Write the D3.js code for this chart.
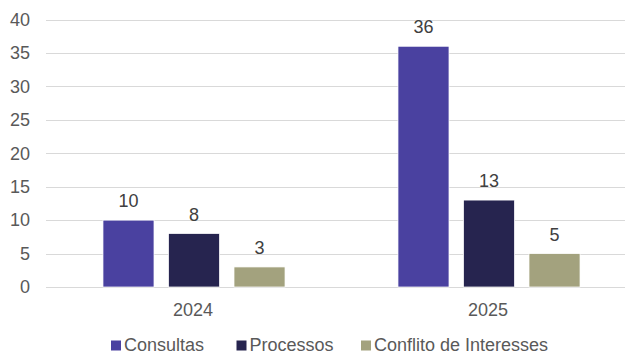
<!DOCTYPE html>
<html>
<head>
<meta charset="utf-8">
<script src="https://cdn.jsdelivr.net/npm/d3@7"></script>
<style>
  html, body { margin: 0; padding: 0; background: #fff; }
  svg { display: block; font-family: "Liberation Sans", Arial, sans-serif; }
</style>
</head>
<body>
<svg id="chart" width="625" height="354"></svg>
<script>
// Chart data
const years = ["2024", "2025"];
const seriesNames = ["Consultas", "Processos", "Conflito de Interesses"];
const consultas = [10, 36];
const processos = [8, 13];
const conflito = [3, 5];
const yTicks = [0, 5, 10, 15, 20, 25, 30, 35, 40];

const seriesValues = [consultas, processos, conflito];
const colors = ["#4A41A0", "#26244F", "#A3A27E"];

const svg = d3.select("#chart");
const W = 625;

const x0 = d3.scaleBand().domain(years).range([46.5, 636.5]).padding(0);
const x1 = d3.scaleBand().domain(seriesNames).range([0, x0.bandwidth()])
  .paddingInner(0.221).paddingOuter(0.862);
const y = d3.scaleLinear().domain([0, 40]).range([287, 19.5]);

// Horizontal gridlines
svg.append("g").selectAll("line").data(yTicks).join("line")
  .attr("x1", 46).attr("x2", W)
  .attr("y1", d => Math.round(y(d)) + 0.5).attr("y2", d => Math.round(y(d)) + 0.5)
  .attr("stroke", "#d9d9d9").attr("stroke-width", 1);

// Y axis labels
svg.append("g").selectAll("text").data(yTicks).join("text")
  .attr("x", 30).attr("y", d => y(d) + 6.3)
  .attr("text-anchor", "end")
  .attr("font-size", 18).attr("fill", "#595959")
  .text(d => d);

// X axis labels
svg.append("g").selectAll("text").data(years).join("text")
  .attr("x", d => x0(d) + x0.bandwidth() / 2 - 1)
  .attr("y", 315.5)
  .attr("text-anchor", "middle")
  .attr("font-size", 18).attr("fill", "#595959")
  .text(d => d);

// Bars and value labels
const rows = [];
years.forEach((yr, i) => {
  seriesNames.forEach((s, j) => rows.push({ year: yr, series: s, value: seriesValues[j][i], color: colors[j] }));
});

const g = svg.append("g");
g.selectAll("rect").data(rows).join("rect")
  .attr("x", d => x0(d.year) + x1(d.series))
  .attr("y", d => y(d.value))
  .attr("width", x1.bandwidth())
  .attr("height", d => y(0) - y(d.value))
  .attr("fill", d => d.color)
  .attr("stroke", "#ffffff").attr("stroke-width", 0.75);

g.selectAll("text").data(rows).join("text")
  .attr("x", d => x0(d.year) + x1(d.series) + x1.bandwidth() / 2)
  .attr("y", d => y(d.value) - 13)
  .attr("text-anchor", "middle")
  .attr("font-size", 18).attr("fill", "#404040")
  .text(d => d.value);

// Legend
const legendX = [111, 236.5, 361];
const legend = svg.append("g").selectAll("g").data(seriesNames).join("g")
  .attr("transform", (d, i) => `translate(${legendX[i]},0)`);
legend.append("rect")
  .attr("x", 0).attr("y", 340.5).attr("width", 10).attr("height", 10)
  .attr("fill", (d, i) => colors[i]);
legend.append("text")
  .attr("x", 13).attr("y", 350.5)
  .attr("font-size", 18).attr("fill", "#595959")
  .text(d => d);
</script>
</body>
</html>
